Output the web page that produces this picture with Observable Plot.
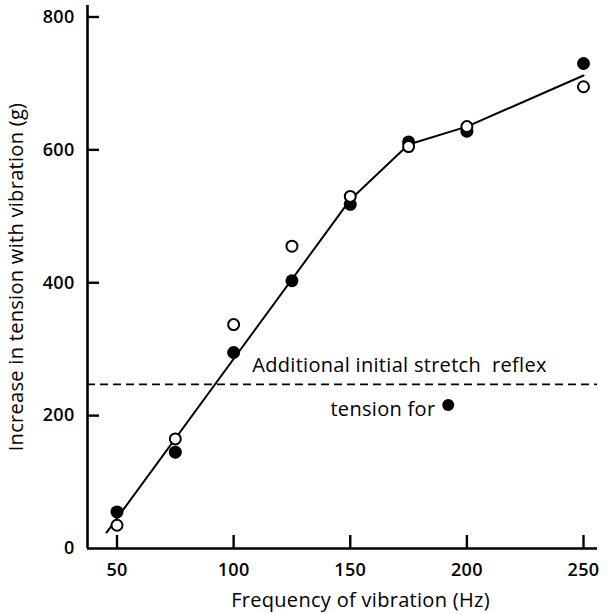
<!DOCTYPE html>
<html>
<head>
<meta charset="utf-8">
<script src="https://cdn.jsdelivr.net/npm/d3@7"></script>
<script src="https://cdn.jsdelivr.net/npm/@observablehq/plot@0.6"></script>
<style>
  html, body { margin: 0; padding: 0; background: #fff; }
  #chart svg { display: block; }
  #chart svg text { letter-spacing: 0.3px; }
</style>
</head>
<body>
<div id="chart"></div>
<script>
// Frequencies (Hz)
const frequencies = [50, 75, 100, 125, 150, 175, 200, 250];
// Open circles
const openValues = [35, 165, 337, 455, 530, 605, 635, 695];
// Filled circles
const filledValues = [55, 145, 295, 403, 518, 612, 628, 730];
// Fitted line vertices
const lineX = [45.5, 150, 175, 200, 250];
const lineY = [24, 525, 608, 635, 712];
// Dashed reference level
const reflexLevel = [247];
// Tick labels
const xTicks = [50, 100, 150, 200, 250];
const yTicks = [0, 200, 400, 600, 800];
// Axis titles
const xTitle = ["Frequency of vibration (Hz)"];
const yTitle = "Increase in tension with vibration (g)";
// Annotations
const annoText = ["Additional initial stretch  reflex", "tension for"];
const annoX = [108, 141.5];
const annoY = [266, 200];
const annoDot = [{x: 192, y: 216}];

const openData = frequencies.map((f, i) => ({x: f, y: openValues[i]}));
const filledData = frequencies.map((f, i) => ({x: f, y: filledValues[i]}));
const lineData = lineX.map((x, i) => ({x, y: lineY[i]}));
const annoData = annoText.map((t, i) => ({t, x: annoX[i], y: annoY[i]}));

const xDom = [37.35, 256.0];
const yDom = [0, 817.3];
const pxX = 510 / (xDom[1] - xDom[0]);
const pxY = 543 / (yDom[1] - yDom[0]);

const font = "'Open Sans', Lato, sans-serif";

const chart = Plot.plot({
  width: 611,
  height: 614,
  marginLeft: 87,
  marginRight: 14,
  marginTop: 5,
  marginBottom: 66,
  style: {fontFamily: font, color: "#000", background: "#fff"},
  x: {domain: xDom},
  y: {domain: yDom},
  marks: [
    Plot.axisX({ticks: xTicks, tickSize: 0, tickPadding: 15, fontSize: 18, fontWeight: 600, label: null}),
    Plot.axisY({ticks: yTicks, tickSize: 0, tickPadding: 13, fontSize: 18, fontWeight: 600, label: null}),
    Plot.text(xTitle, {frameAnchor: "bottom", text: d => d, dx: 18, dy: 52, lineAnchor: "middle", fontSize: 20, fill: "#000"}),
    Plot.axisY({ticks: [], tickSize: 0, fontSize: 20,
      label: yTitle, labelAnchor: "center", labelArrow: "none", labelOffset: 79}),
    // axis lines
    Plot.ruleX([xDom[0]], {y1: yDom[0], y2: yDom[1], strokeWidth: 2.6, stroke: "#000"}),
    Plot.ruleY([0], {x1: xDom[0], x2: xDom[1], strokeWidth: 2.6, stroke: "#000"}),
    // inward ticks
    Plot.ruleY(yTicks.slice(1), {y: d => d, x1: xDom[0], x2: xDom[0] + 12 / pxX, strokeWidth: 2.4, stroke: "#000"}),
    Plot.ruleX(xTicks, {x: d => d, y1: 0, y2: 13 / pxY, strokeWidth: 2.4, stroke: "#000"}),
    // dashed reflex line
    Plot.ruleY(reflexLevel, {x1: xDom[0], x2: 300, stroke: "#000", strokeWidth: 1.6, strokeDasharray: "8,5", clip: true}),
    // fitted line
    Plot.line(lineData, {x: "x", y: "y", stroke: "#000", strokeWidth: 2}),
    // filled circles
    Plot.dot(filledData, {x: "x", y: "y", r: 6.5, fill: "#000", stroke: "none"}),
    // open circles
    Plot.dot(openData, {x: "x", y: "y", r: 5.5, fill: "#fff", stroke: "#000", strokeWidth: 2}),
    // annotations
    Plot.text(annoData, {x: "x", y: "y", text: "t", textAnchor: "start", lineAnchor: "bottom", fontSize: 20, fill: "#000"}),
    Plot.dot(annoDot, {x: "x", y: "y", r: 6, fill: "#000"})
  ]
});
document.getElementById("chart").appendChild(chart);
</script>
</body>
</html>
